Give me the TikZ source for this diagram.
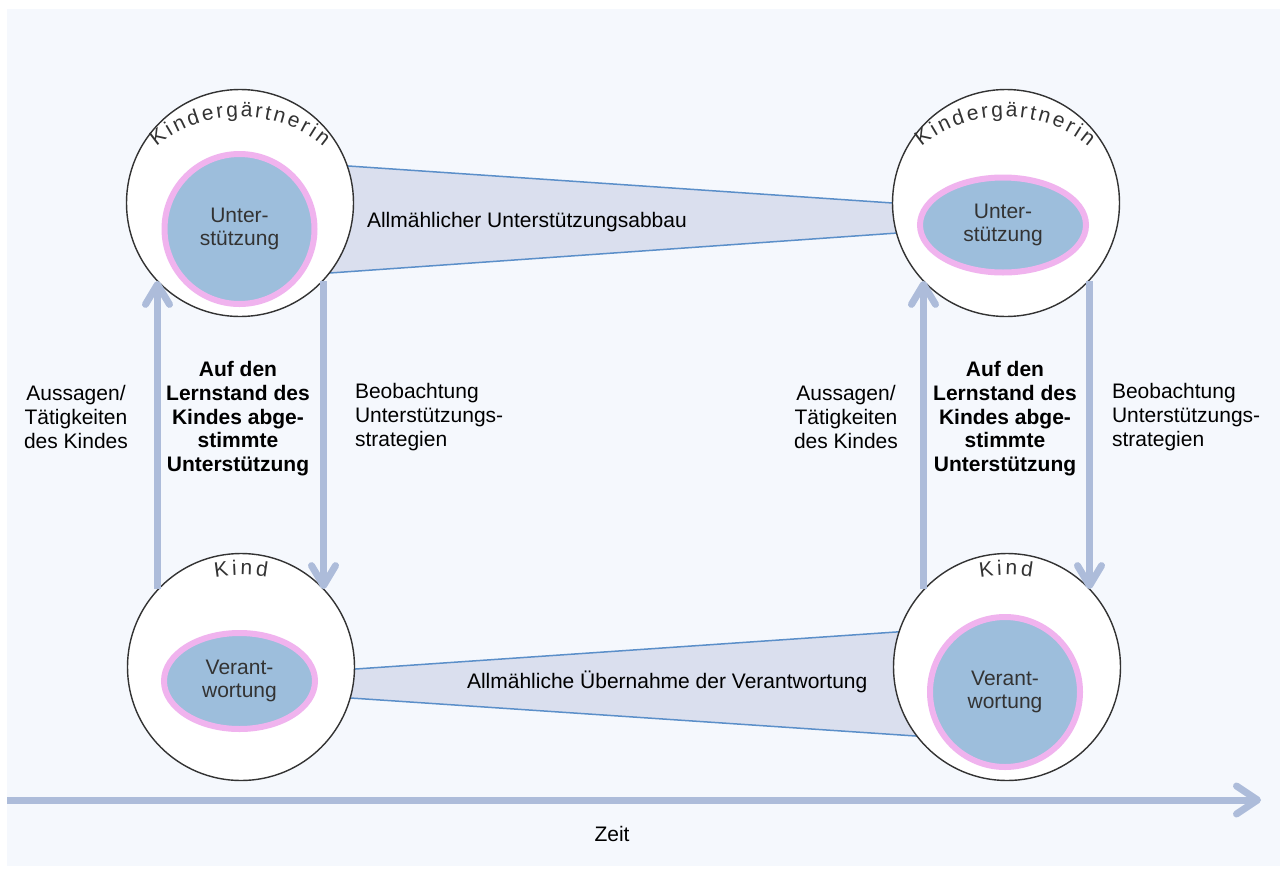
\documentclass[tikz,border=0pt]{standalone}
\usepackage{fontspec}
\setmainfont{Liberation Sans}
\usetikzlibrary{shapes.geometric,arrows.meta,calc}
\definecolor{bgc}{HTML}{F5F8FD}
\definecolor{trapfill}{HTML}{DADFEE}
\definecolor{trapline}{HTML}{5B8FC9}
\definecolor{arrowc}{HTML}{ADBCDA}
\definecolor{innerfill}{HTML}{9DBEDC}
\definecolor{pinkc}{HTML}{F0B3EE}
\definecolor{darkg}{HTML}{333333}
\newcommand\arcfont{\fontsize{21}{24}\selectfont}
% letters along the top of an ellipse (baseline)
% #1 prefix, #2 center, #3 rx, #4 ry, #5 spacing, #6 char/width(em) list ; size 21
\newcommand\arcletters[6]{%
  \xdef\arcacc{0}%
  \foreach \ch/\cw in {#6}{%
    \pgfmathsetmacro\arcnew{\arcacc+\cw*21+#5}%
    \xdef\arcacc{\arcnew}%
  }%
  \pgfmathsetmacro\arctot{\arcacc-#5}%
  \xdef\arctotal{\arctot}%
  \xdef\arcpos{0}%
  \foreach \ch/\cw [count=\ci] in {#6}{%
    \pgfmathsetmacro\cwpt{\cw*21}%
    \pgfmathsetmacro\sarc{\arcpos+\cwpt/2-\arctotal/2}%
    \pgfmathsetmacro\tA{90-\sarc/(0.5*(#3+#4))*180/pi}%
    \pgfmathsetmacro\spd{0.5*(#3+veclen(#3*sin(\tA),#4*cos(\tA)))}%
    \pgfmathsetmacro\tB{90-\sarc/\spd*180/pi}%
    \pgfmathsetmacro\rotA{atan2(-#4*cos(\tB),#3*sin(\tB))}%
    \pgfmathsetmacro\px{#3*cos(\tB)}%
    \pgfmathsetmacro\py{#4*sin(\tB)}%
    \node[arcchar, rotate=\rotA] (#1\ci) at ($(#2)+(\px,\py)$) {\ch};
    \pgfmathsetmacro\arcnew{\arcpos+\cwpt+#5}%
    \xdef\arcpos{\arcnew}%
  }%
}
\begin{document}
\begin{tikzpicture}[x=1pt,y=1pt,
  txt/.style={font=\fontsize{21}{23.75}\selectfont, inner sep=0pt, outer sep=0pt},
  boldtxt/.style={font=\fontsize{21}{23.75}\selectfont\bfseries, inner sep=0pt, outer sep=0pt},
  outer/.style={circle, draw=darkg, line width=1.4pt, fill=white, minimum size=227pt, inner sep=0pt},
  innerc/.style={circle, draw=pinkc, line width=6pt, fill=innerfill, minimum size=150pt, inner sep=0pt, txt, text=darkg, align=center},
  innere/.style={ellipse, draw=pinkc, line width=6pt, fill=innerfill, inner sep=0pt, txt, text=darkg, align=center},
  flow/.style={draw=arrowc, line width=7pt, -{Straight Barb[length=20pt, width=24pt, round]}},
  trap/.style={fill=trapfill, draw=trapline, line width=1.5pt, line join=round},
  arcchar/.style={anchor=base, inner sep=0pt, outer sep=0pt, text=darkg, font=\arcfont},
]
\useasboundingbox (0,0) rectangle (1280,-868);
\fill[white] (0,0) rectangle (1280,-868);
\fill[bgc] (7,-9) rectangle (1280,-866);

% bands
\draw[trap] (300,-162.7) -- (950,-206.9) -- (950,-229.3) -- (300,-275.1) -- cycle;
\draw[trap] (300,-672.8) -- (950,-628.3) -- (950,-738.3) -- (300,-694.6) -- cycle;

% outer circles
\node[outer] (K1) at (240,-203) {};
\node[outer] (K2) at (1006,-203) {};
\node[outer] (K3) at (241,-667) {};
\node[outer] (K4) at (1007,-667) {};

% inner shapes
\node[innerc] (I1) at (239.5,-229) {Unter-\\stützung};
\node[innere, minimum width=166pt, minimum height=95pt] (I2) at (1003,-225) {Unter-\\stützung};
\node[innere, minimum width=151pt, minimum height=96pt] (I3) at (239.5,-681) {Verant-\\wortung};
\node[innerc] (I4) at (1005,-692) {Verant-\\wortung};

% arc labels
\coordinate (c1) at (240,-205);
\coordinate (c2) at (1005,-205);
\coordinate (c3) at (241,-718);
\coordinate (c4) at (1006,-718);
\arcletters{kga}{c1}{112}{88}{2.4}{K/0.667,i/0.222,n/0.556,d/0.556,e/0.556,r/0.333,g/0.556,ä/0.556,r/0.333,t/0.278,n/0.556,e/0.556,r/0.333,i/0.222,n/0.556}
\arcletters{kgb}{c2}{112}{88}{2.4}{K/0.667,i/0.222,n/0.556,d/0.556,e/0.556,r/0.333,g/0.556,ä/0.556,r/0.333,t/0.278,n/0.556,e/0.556,r/0.333,i/0.222,n/0.556}
\arcletters{kda}{c3}{143}{143}{3.3}{K/0.667,i/0.222,n/0.556,d/0.556}
\arcletters{kdb}{c4}{143}{143}{3.3}{K/0.667,i/0.222,n/0.556,d/0.556}

% vertical arrows
\draw[flow] (K3.137.7) -- (K3.137.7 |- K1.223);
\draw[flow] (K1.317) -- (K1.317 |- K3.43.75);
\draw[flow] (K4.137) -- (K4.137 |- K2.223.75);
\draw[flow] (K2.317.7) -- (K2.317.7 |- K4.43);

% time axis
\coordinate (t0) at (7,-800);
\coordinate (t1) at (1261,-800);
\draw[draw=arrowc, line width=7pt, -{Straight Barb[length=21pt, width=28pt, round]}] (t0) -- (t1);
\node[txt] (zeit) at (612,-834) {Zeit};

% band labels
\node[txt, anchor=base west] (ta) at (367,-227) {Allmählicher Unterstützungsabbau};
\node[txt, anchor=base west] (tb) at (467,-688) {Allmähliche Übernahme der Verantwortung};

% side labels
\node[txt, align=center] (la1) at (76,-417) {Aussagen/\\Tätigkeiten\\des Kindes};
\node[boldtxt, align=center] (lb1) at (238,-418.7) {Auf den\\Lernstand des\\Kindes abge-\\stimmte\\Unterstützung};
\node[txt, align=left, anchor=west] (lc1) at (355,-417) {Beobachtung\\Unterstützungs-\\strategien};
\node[txt, align=center] (la2) at (846,-417) {Aussagen/\\Tätigkeiten\\des Kindes};
\node[boldtxt, align=center] (lb2) at (1005,-418.7) {Auf den\\Lernstand des\\Kindes abge-\\stimmte\\Unterstützung};
\node[txt, align=left, anchor=west] (lc2) at (1112,-417) {Beobachtung\\Unterstützungs-\\strategien};
\end{tikzpicture}
\end{document}
